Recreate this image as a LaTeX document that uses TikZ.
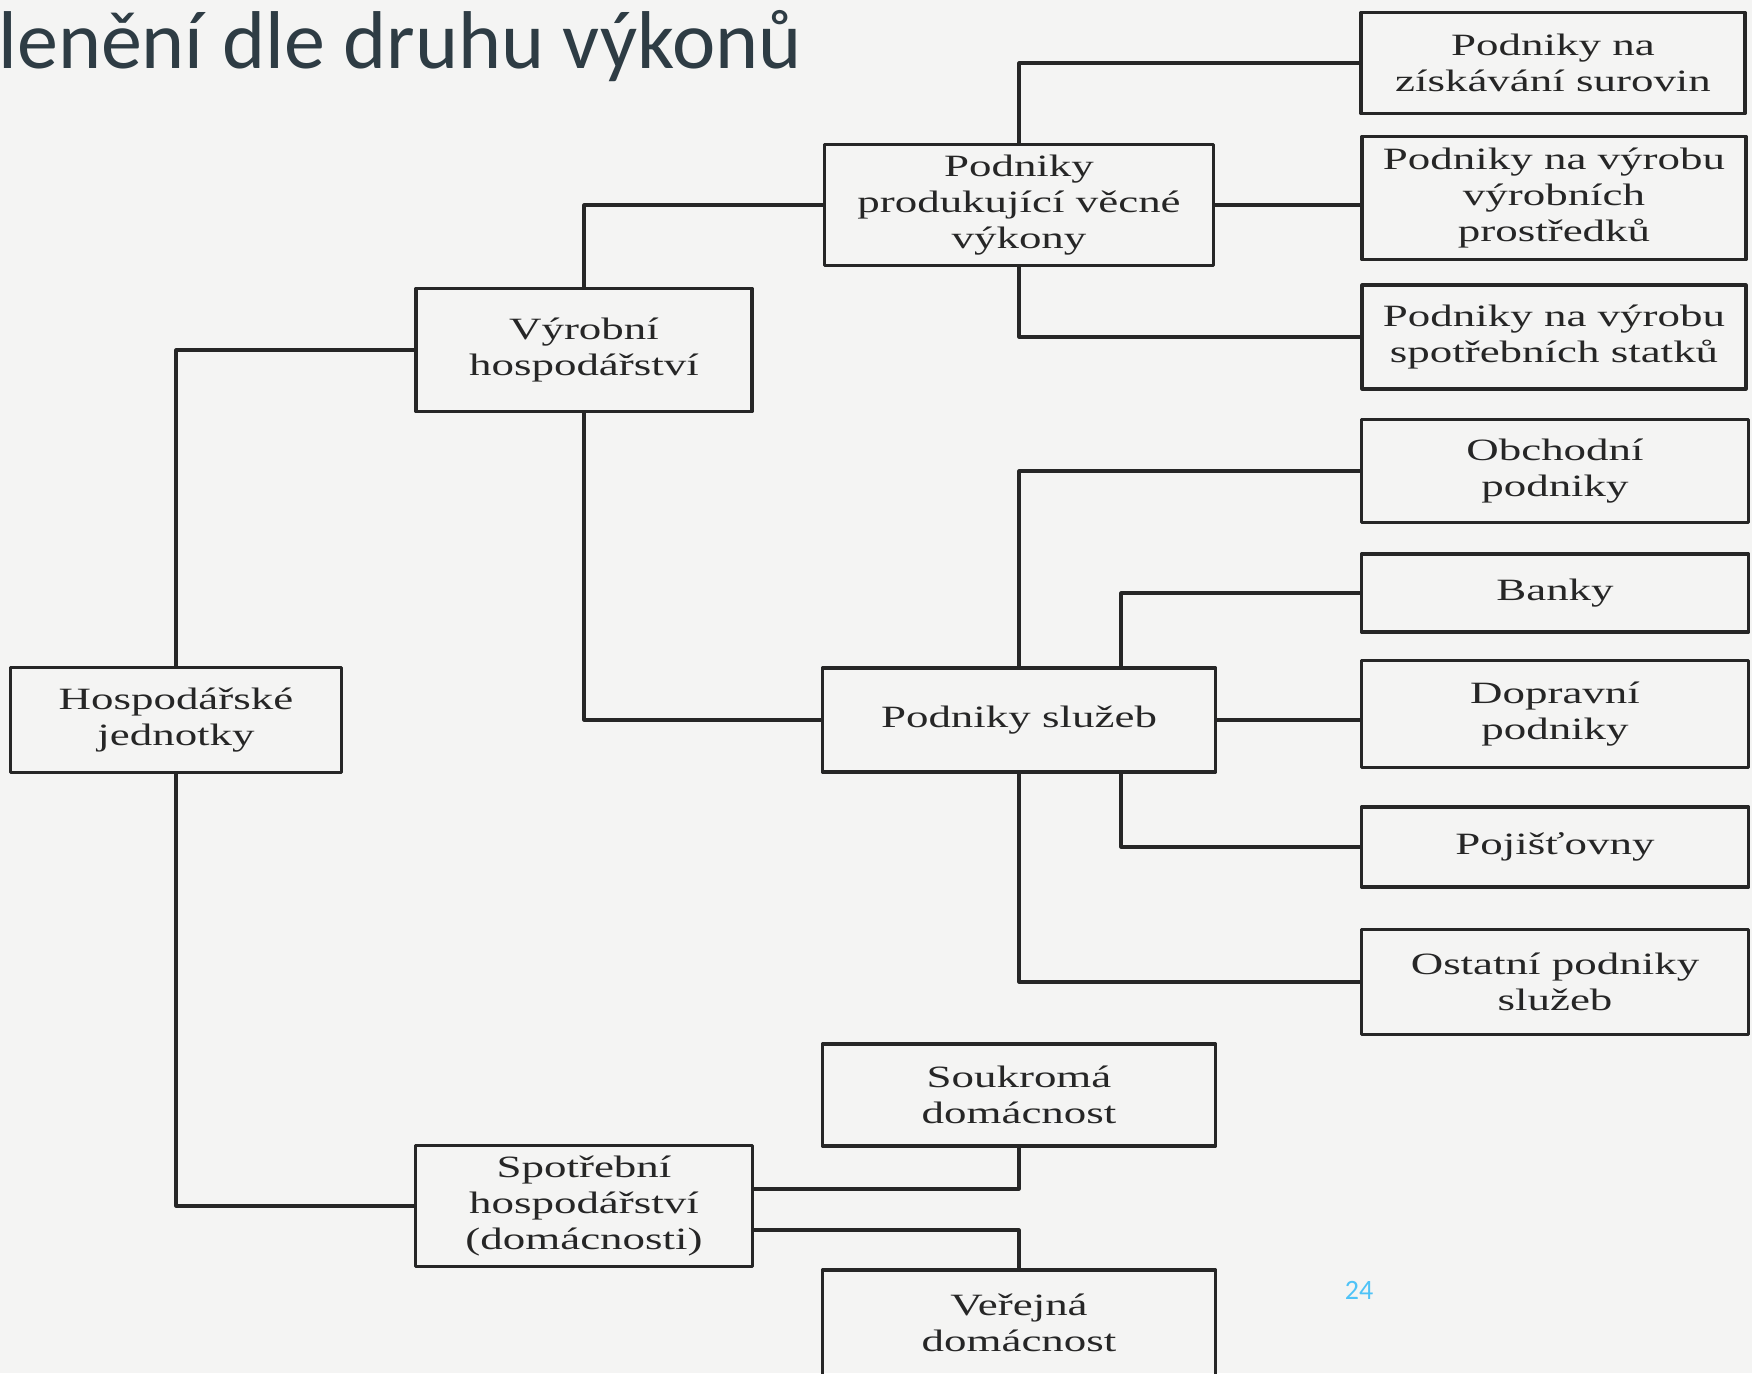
\documentclass[tikz,border=0pt]{standalone}
\usepackage{fontspec}
\setmainfont{Liberation Serif}[FakeStretch=1.45]
\newfontfamily\titlefont{Carlito}
\usepackage{tikz}
\definecolor{paper}{RGB}{244,244,243}
\definecolor{ink}{RGB}{38,38,38}
\definecolor{slate}{RGB}{46,60,68}
\definecolor{pagenum}{RGB}{79,195,247}

\begin{document}
\begin{tikzpicture}[line cap=round, line join=round, x=0.5pt, y=-0.5pt,
    box/.style={draw=ink, line width=1.6pt, align=center, inner sep=0pt, text=ink,
        font=\fontsize{15.5pt}{18pt}\selectfont},
    link/.style={draw=ink, line width=1.6pt}]
                \fill[paper] (0,0) rectangle (1752,1373);
                \useasboundingbox (0,0) rectangle (1752,1373);
                \node[anchor=base west, inner sep=0pt, text=slate, font=\titlefont\fontsize{41pt}{48pt}\selectfont] (title) at (-2,68) {lenění dle druhu výkonů};
                % levels 1 and 2
                \node[box, minimum width=165.5pt, minimum height=52.5pt] (hosp) at (176,720) {Hospodářské\\jednotky};
                \node[box, minimum width=168pt, minimum height=61.5pt] (vyr) at (584,350) {Výrobní\\hospodářství};
                \node[box, minimum width=168.5pt, minimum height=60.5pt] (spot) at (584,1206) {Spotřební\\hospodářství\\(domácnosti)};
                % level 3
                \node[box, minimum width=194.5pt, minimum height=60.5pt] (prod) at (1019,205) {Podniky\\produkující věcné\\výkony};
                \node[box, minimum width=196.5pt, minimum height=52pt] (sluz) at (1019,720) {Podniky služeb};
                \node[box, minimum width=196.5pt, minimum height=51pt] (souk) at (1019,1095) {Soukromá\\domácnost};
                \node[box, minimum width=196.5pt, minimum height=53pt] (ver) at (1019,1323) {Veřejná\\domácnost};
                % level 4
                \node[box, minimum width=192pt, minimum height=50.5pt] (ziskav) at (1553,63) {Podniky na\\získávání surovin};
                \node[box, minimum width=192pt, minimum height=61.5pt] (vyrpr) at (1554,198) {Podniky na výrobu\\výrobních\\prostředků};
                \node[box, minimum width=192pt, minimum height=52pt] (spotst) at (1554,337) {Podniky na výrobu\\spotřebních statků};
                \node[box, minimum width=193.5pt, minimum height=51.5pt] (obch) at (1555,471) {Obchodní\\podniky};
                \node[box, minimum width=193.5pt, minimum height=39pt] (banky) at (1555,593) {Banky};
                \node[box, minimum width=193.5pt, minimum height=53.5pt] (doprav) at (1555,714) {Dopravní\\podniky};
                \node[box, minimum width=193.5pt, minimum height=40pt] (pojist) at (1555,847) {Pojišťovny};
                \node[box, minimum width=193.5pt, minimum height=52.5pt] (ostat) at (1555,982) {Ostatní podniky\\služeb};
                \node[text=pagenum, inner sep=0pt, font=\titlefont\fontsize{14pt}{16pt}\selectfont] (pg) at (1359,1290) {24};
                % connectors
                \foreach \a/\b in {hosp.north/vyr.west, hosp.south/spot.west, vyr.north/prod.west, vyr.south/sluz.west,
                    prod.north/ziskav.west, prod.south/spotst.west, sluz.north/obch.west, sluz.south/ostat.west}
                    \draw[link] (\a) |- (\b);
                \draw[link] (prod.east) -- (prod.east -| vyrpr.west);
                \draw[link] (sluz.east) -- (sluz.east -| doprav.west);
                \draw[link] (sluz.north) ++(102,0) |- (banky.west);
                \draw[link] (sluz.south) ++(102,0) |- (pojist.west);
                \draw[link] (spot.east) ++(0,-17) -| (souk.south);
                \draw[link] (spot.east) ++(0,24) -| (ver.north);
            \end{tikzpicture}
\end{document}
